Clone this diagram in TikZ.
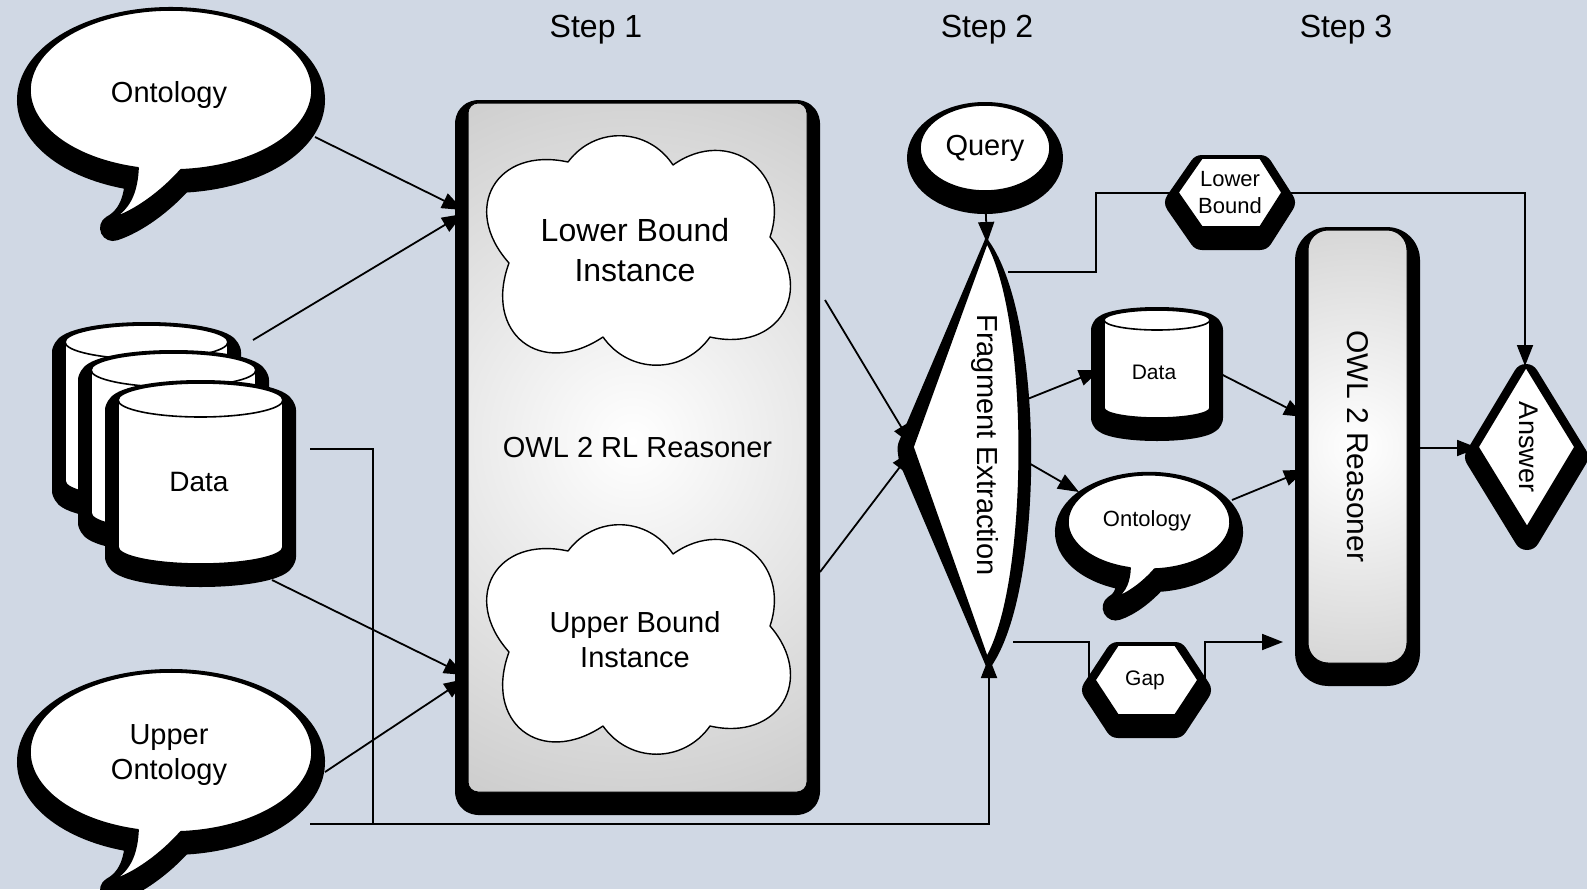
\documentclass[tikz,border=0pt]{standalone}
\usepackage{fontspec}
\setmainfont{Liberation Sans}
\usetikzlibrary{arrows.meta,calc,shapes.geometric}

\definecolor{canvasbg}{RGB}{208,216,228}
\definecolor{glowedge}{RGB}{152,152,152}
\pgfdeclareradialshading{greyglow}{\pgfpoint{0bp}{0bp}}{color(0bp)=(white); color(50bp)=(glowedge); color(100bp)=(glowedge)}

\newcommand\fs[2]{\fontsize{#1}{#2}\selectfont}

% speech bubble: centre x, centre y, x scale, y scale
\newcommand\talkbubble[4]{%
  \path[outline, shadowed, shift={(#1,#2)}, xscale=#3, yscale=#4]
    (103.5:141 and 80) arc[start angle=103.5, end angle=446, x radius=141, y radius=80]
    .. controls (-10,102) and (-36,121) .. (-58,128)
    .. controls (-40,118) and (-34,100) .. (103.5:141 and 80) -- cycle;}

% cloud outline around a centre point
\newcommand\puffcloud[2]{%
  \path[outline, line width=1.4pt, shift={(#1,#2)}]
    (-128,12) to[bend left=72, looseness=1.6] (-69,-89)
    to[bend left=55, looseness=1.1] (36,-86)
    to[bend left=72, looseness=1.45] (133,-14)
    to[bend left=72, looseness=1.55] (73,86)
    to[bend left=55, looseness=1.1] (-34,86)
    to[bend left=72, looseness=1.6] (-128,12) -- cycle;}

% database drum: left, right, top end y, bottom end y, end half-height
\newcommand\drum[5]{%
  \path[outline, shadowed] (#1,#3) -- (#1,#4)
    arc[start angle=180, end angle=0, x radius={(#2-#1)/2}, y radius=#5]
    -- (#2,#3)
    arc[start angle=0, end angle=-180, x radius={(#2-#1)/2}, y radius=#5] -- cycle;
  \draw[line width=1.6pt] (#1,#3) arc[start angle=180, end angle=0, x radius={(#2-#1)/2}, y radius=#5];}

\begin{document}
\begin{tikzpicture}[x=1pt, y=-1pt,
  outline/.style={draw=black, line width=1.6pt, fill=white, line join=round},
  shadowed/.style={preaction={draw=black, fill=black, line width=26pt, line join=round,
                   transform canvas={yshift=-10pt}}},
  txt/.style={inner sep=0pt, align=center, text=black},
  conn/.style={draw=black, line width=1.8pt},
  conna/.style={conn, -{Triangle[length=21pt, width=16pt]}},
]
\useasboundingbox (0,0) rectangle (1587,889);
\fill[canvasbg] (0,0) rectangle (1587,889);

% ---- step headings
\node[txt, font=\fs{32}{36}] (step1) at (596,30) {Step 1};
\node[txt, font=\fs{32}{36}] (step2) at (987,30) {Step 2};
\node[txt, font=\fs{32}{36}] (step3) at (1346,30) {Step 3};

% ---- inputs
\talkbubble{171}{90}{1}{1}
\node[txt, font=\fs{29}{35}] (onto) at (169,95) {Ontology};

\drum{65}{228}{342}{481}{17}
\drum{91}{256}{370}{513}{17}
\drum{118}{283}{400}{547}{17}
\node[txt, font=\fs{28}{34}] (data) at (199,482) {Data};

\talkbubble{171}{752}{1}{1}
\node[txt, font=\fs{29}{35}] (uonto) at (169,755) {Upper\\Ontology};

% ---- step 1: OWL 2 RL reasoner
\node[txt, font=\fs{29}{35}, rectangle, rounded corners=10pt,
      minimum width=339pt, minimum height=689pt, draw=black, line width=1pt, shadowed,
      path picture={\shade[shading=greyglow] ([xshift=-5pt, yshift=7pt]path picture bounding box.center) circle[radius=400pt];}]
      (rl) at (637.5,447.5) {OWL 2 RL Reasoner};
\puffcloud{637}{251}
\node[txt, font=\fs{32}{40}] (lbi) at (635,250) {Lower Bound\\Instance};
\puffcloud{637}{640}
\node[txt, font=\fs{29}{35}] (ubi) at (635,640) {Upper Bound\\Instance};

% ---- step 2: query and fragment extraction
\node[txt, outline, shadowed, ellipse, minimum width=130pt, minimum height=86pt, font=\fs{29}{35}]
      (query) at (985,148) {Query};
% drop shadow of the fragment shape, kept narrow at the pointed ends
\fill[black, rounded corners=5pt] (986,237) -- (897,446) -- (899,462) -- (988,671)
      .. controls (1045,590) and (1045,320) .. (986,237) -- cycle;
\path[outline] (987,243) -- (913,447) -- (987,657)
      .. controls (1030,580) and (1030,320) .. (987,243) -- cycle;
\node[txt, font=\fs{29}{35}, rotate=-90] (frag) at (985,445) {Fragment Extraction};

\path[outline, shadowed] (1178,192.5) -- (1202,158) -- (1260,158) -- (1282,192.5) -- (1260,227) -- (1202,227) -- cycle;
\node[txt, font=\fs{22}{27}] (lower) at (1230,193) {Lower\\Bound};

\drum{1104}{1210}{320}{408}{10}
\node[txt, font=\fs{21}{25}] (sdata) at (1154,372) {Data};

\talkbubble{1149}{522}{0.575}{0.59}
\node[txt, font=\fs{22}{26}] (sonto) at (1147,521) {Ontology};

\path[outline, shadowed] (1095,680) -- (1118,645) -- (1175,645) -- (1198,680) -- (1175,715) -- (1118,715) -- cycle;
\node[txt, font=\fs{21}{25}] (gap) at (1145,680) {Gap};

% ---- step 3: OWL 2 reasoner and answer
\node[txt, font=\fs{30}{36}, rectangle, rounded corners=20pt, rotate=-90,
      minimum width=433pt, minimum height=99pt, draw=black, line width=1pt, shadowed,
      path picture={\shade[shading=greyglow] (path picture bounding box.center) circle[radius=280pt];}]
      (owl) at (1357.5,446.5) {OWL 2 Reasoner};

\path[outline, shadowed] (1526,367) -- (1575,447) -- (1527,527) -- (1478,447) -- cycle;
\node[txt, font=\fs{27}{32}, rotate=-90] (answer) at (1529,447) {Answer};

% ---- connector end points
\coordinate (ontoOut) at (315,137);
\coordinate (dataOutA) at (253,340);
\coordinate (dataOutB) at (272,580);
\coordinate (dataOutC) at (310,449);
\coordinate (uontoOut) at (325,772);
\coordinate (uontoOutB) at (310,824);
\coordinate (join) at (373,824);
\coordinate (rlInA) at (463,210);
\coordinate (rlInB) at (463,214);
\coordinate (rlInC) at (465,675);
\coordinate (rlInD) at (465,679);
\coordinate (rlOutA) at (825,300);
\coordinate (rlOutB) at (820,572);
\coordinate (fragL) at (912,445);
\coordinate (fragL2) at (912,451);
\coordinate (fragT) at (987,243);
\coordinate (fragB) at (989,657);
\coordinate (fragR1) at (1008,272);
\coordinate (fragR2) at (1020,402);
\coordinate (fragR3) at (1020,458);
\coordinate (fragR4) at (1013,642);
\coordinate (lowerL) at (1178,193);
\coordinate (lowerR) at (1282,193);
\coordinate (sdataL) at (1100,370);
\coordinate (sdataR) at (1213,370);
\coordinate (sontoIn) at (1079,492);
\coordinate (sontoOut) at (1232,500);
\coordinate (gapL) at (1089,680);
\coordinate (gapR) at (1205,680);
\coordinate (owlInA) at (1305,417);
\coordinate (owlInB) at (1305,470);
\coordinate (owlInC) at (1283,642);
\coordinate (owlOut) at (1410,448);
\coordinate (ansT) at (1525,366);
\coordinate (ansL) at (1478,448);

% ---- connectors
\draw[conna] (ontoOut) -- (rlInA);
\draw[conna] (dataOutA) -- (rlInB);
\draw[conna] (dataOutB) -- (rlInC);
\draw[conna] (uontoOut) -- (rlInD);
\draw[conn] (dataOutC) -| (join);
\draw[conna] (uontoOutB) -| (fragB);
\draw[conna] (rlOutA) -- (fragL);
\draw[conna] (rlOutB) -- (fragL2);
\draw[conna] (query.south) -- (fragT);
\draw[conn] (fragR1) -- (1096,272) |- (lowerL);
\draw[conna] (lowerR) -| (ansT);
\draw[conna] (fragR2) -- (sdataL);
\draw[conna] (fragR3) -- (sontoIn);
\draw[conna] (sdataR) -- (owlInA);
\draw[conna] (sontoOut) -- (owlInB);
\draw[conn] (fragR4) -| (gapL);
\draw[conna] (gapR) |- (owlInC);
\draw[conna] (owlOut) -- (ansL);
\end{tikzpicture}
\end{document}
